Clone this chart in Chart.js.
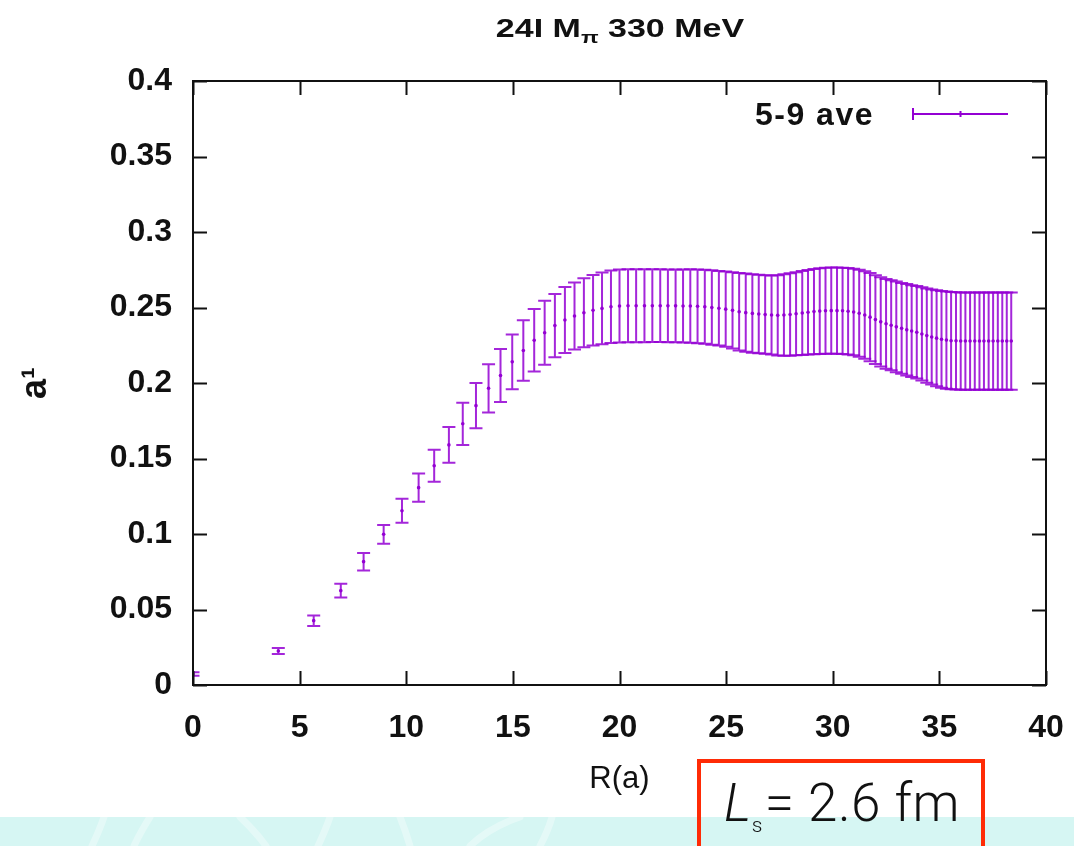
<!DOCTYPE html>
<html>
<head>
<meta charset="utf-8">
<script src="https://cdn.jsdelivr.net/npm/chart.js@4.4.1/dist/chart.umd.min.js"></script>
<style>
  html, body { margin: 0; padding: 0; background: #ffffff; overflow: hidden; }
  #wrap { position: relative; width: 1074px; height: 846px; overflow: hidden; }
  #plot { position: absolute; left: 0; top: 0; }
  #band { position: absolute; left: 0; top: 817px; width: 1074px; height: 29px; background: #d6f6f3; }
  #band svg { position: absolute; left: 0; top: 0; }
  #title { position: absolute; top: 14px; left: 620px; transform: translateX(-50%) scaleX(1.36);
           font: bold 25px "Liberation Sans", Arial, sans-serif; color: #111; white-space: nowrap; }
  #title sub { font-size: 17px; vertical-align: -6px; line-height: 0; }
  #lsbox { position: absolute; left: 697px; top: 759px; width: 280px; height: 120px;
           border: 4px solid #ff2b06; }
  #lstext { position: absolute; left: 724px; top: 772px; font: 300 53px Roboto, "Liberation Sans", sans-serif;
            color: #111; white-space: nowrap; letter-spacing: 0.5px; }
  #lstext i { font-style: italic; }
  #lstext sub { font-size: 21px; vertical-align: -11px; line-height: 0; margin-right: 2px; margin-left: 0; }
</style>
</head>
<body>
<div id="wrap">
  <div id="band">
    <svg width="1074" height="29" viewBox="0 0 1074 29">
      <g fill="none" stroke="#ffffff" stroke-opacity="0.35" stroke-width="7" stroke-linecap="round">
        <path d="M92 29 Q100 12 104 0"/>
        <path d="M150 0 Q140 16 134 29"/>
        <path d="M240 0 Q255 14 266 29"/>
        <path d="M318 29 Q326 12 330 0"/>
        <path d="M400 0 Q406 15 410 29"/>
        <path d="M470 29 Q490 10 520 0"/>
        <path d="M540 29 Q548 14 552 0"/>
      </g>
    </svg>
  </div>
  <canvas id="plot" width="1074" height="846"></canvas>
  <div id="title">24I M<sub>π</sub> 330 MeV</div>
  <div id="lsbox"></div>
  <div id="lstext"><i>L</i><sub>s</sub>= 2.6 fm</div>
</div>
<script>
// Separation R (lattice units) for each averaged point
const rValues = [0, 4.00, 5.66, 6.93, 8.00, 8.94, 9.80, 10.58, 11.31, 12.00, 12.65, 13.27, 13.86,
  14.42, 14.97, 15.49, 16.00, 16.49, 16.97, 17.44, 17.89, 18.33, 18.76, 19.18, 19.60, 20.00,
  20.40, 20.78, 21.17, 21.54, 21.91, 22.27, 22.63, 22.98, 23.32, 23.66, 24.00, 24.33, 24.66,
  24.98, 25.30, 25.61, 25.92, 26.23, 26.53, 26.83, 27.13, 27.42, 27.71, 28.00, 28.28, 28.57,
  28.84, 29.12, 29.39, 29.66, 29.93, 30.20, 30.46, 30.72, 30.98, 31.24, 31.50, 31.75, 32.00,
  32.25, 32.50, 32.74, 32.98, 33.23, 33.47, 33.70, 33.94, 34.18, 34.41, 34.64, 34.87, 35.10,
  35.33, 35.55, 35.78, 36.00, 36.22, 36.44, 36.66, 36.88, 37.09, 37.31, 37.52, 37.74, 37.95,
  38.16, 38.37];

// "5-9 ave" central values
const aveValues = [0.0073, 0.0225, 0.0426, 0.0625, 0.0817, 0.0998, 0.1154, 0.1307, 0.1452, 0.1590,
  0.1730, 0.1850, 0.1965, 0.2050, 0.2140, 0.2215, 0.2283, 0.2333, 0.2380, 0.2417, 0.2444, 0.2465,
  0.2482, 0.2494, 0.2505, 0.2510, 0.2512, 0.2512, 0.2512, 0.2512, 0.2512, 0.2511, 0.2511, 0.2510,
  0.2510, 0.2508, 0.2505, 0.2500, 0.2495, 0.2489, 0.2481, 0.2472, 0.2466, 0.2461, 0.2457, 0.2453,
  0.2450, 0.2448, 0.2450, 0.2454, 0.2459, 0.2464, 0.2469, 0.2473, 0.2476, 0.2478, 0.2479, 0.2479,
  0.2478, 0.2475, 0.2470, 0.2462, 0.2450, 0.2436, 0.2420, 0.2405, 0.2392, 0.2382, 0.2372, 0.2362,
  0.2352, 0.2344, 0.2336, 0.2325, 0.2314, 0.2305, 0.2297, 0.2289, 0.2284, 0.2280, 0.2279, 0.2278,
  0.2278, 0.2278, 0.2278, 0.2278, 0.2278, 0.2278, 0.2278, 0.2278, 0.2278, 0.2278, 0.2278];

// Statistical errors (half-width of each error bar)
const aveErrors = [0.0012, 0.0020, 0.0035, 0.0046, 0.0058, 0.0062, 0.0080, 0.0094, 0.0106, 0.0118,
  0.0140, 0.0150, 0.0160, 0.0175, 0.0182, 0.0200, 0.0207, 0.0212, 0.0210, 0.0218, 0.0222, 0.0228,
  0.0234, 0.0238, 0.0240, 0.0242, 0.0242, 0.0242, 0.0242, 0.0241, 0.0241, 0.0241, 0.0241, 0.0242,
  0.0243, 0.0244, 0.0245, 0.0246, 0.0247, 0.0249, 0.0253, 0.0257, 0.0259, 0.0260, 0.0260, 0.0260,
  0.0262, 0.0266, 0.0270, 0.0273, 0.0275, 0.0278, 0.0280, 0.0282, 0.0284, 0.0285, 0.0286, 0.0286,
  0.0286, 0.0286, 0.0287, 0.0288, 0.0290, 0.0292, 0.0294, 0.0296, 0.0297, 0.0298, 0.0300, 0.0301,
  0.0303, 0.0304, 0.0306, 0.0309, 0.0312, 0.0315, 0.0318, 0.0320, 0.0322, 0.0322, 0.0322, 0.0322,
  0.0322, 0.0322, 0.0322, 0.0322, 0.0322, 0.0322, 0.0322, 0.0322, 0.0322, 0.0322, 0.0322];

const xTickValues = [0, 5, 10, 15, 20, 25, 30, 35, 40];
const xTickLabels = ['0', '5', '10', '15', '20', '25', '30', '35', '40'];
const yTickValues = [0, 0.05, 0.1, 0.15, 0.2, 0.25, 0.3, 0.35, 0.4];
const yTickLabels = ['0', '0.05', '0.1', '0.15', '0.2', '0.25', '0.3', '0.35', '0.4'];

const seriesName = '5-9 ave';
const purple = '#9400d3';
const tickFont = { family: '"Liberation Sans", Arial, sans-serif', size: 32, weight: 'bold' };

// Error bars, frame with inward ticks, and the key
const errorBarPlugin = {
  id: 'errorBars',
  afterDatasetsDraw(chart) {
    const { ctx, chartArea: a, scales: { x, y } } = chart;
    ctx.save();
    ctx.beginPath();
    ctx.rect(a.left, a.top, a.right - a.left, a.bottom - a.top);
    ctx.clip();
    ctx.strokeStyle = 'rgba(148,0,211,0.85)';
    ctx.lineWidth = 2;
    const cap = 6.5;
    rValues.forEach((r, i) => {
      const px = x.getPixelForValue(r);
      const hi = y.getPixelForValue(aveValues[i] + aveErrors[i]);
      const lo = y.getPixelForValue(aveValues[i] - aveErrors[i]);
      ctx.beginPath();
      ctx.moveTo(px, hi); ctx.lineTo(px, lo);
      ctx.moveTo(px - cap, hi); ctx.lineTo(px + cap, hi);
      ctx.moveTo(px - cap, lo); ctx.lineTo(px + cap, lo);
      ctx.stroke();
    });
    ctx.restore();
  },
  afterDraw(chart) {
    const { ctx, chartArea: a, scales: { x, y } } = chart;
    ctx.save();
    ctx.strokeStyle = '#111';
    ctx.lineWidth = 2;
    const tl = 14;
    ctx.beginPath();
    xTickValues.forEach(v => {
      const px = Math.round(x.getPixelForValue(v)) + 0.5;
      ctx.moveTo(px, a.bottom); ctx.lineTo(px, a.bottom - tl);
      ctx.moveTo(px, a.top); ctx.lineTo(px, a.top + tl);
    });
    yTickValues.forEach(v => {
      const py = Math.round(y.getPixelForValue(v)) + 0.5;
      ctx.moveTo(a.left, py); ctx.lineTo(a.left + tl, py);
      ctx.moveTo(a.right, py); ctx.lineTo(a.right - tl, py);
    });
    ctx.stroke();
    ctx.strokeRect(a.left, a.top, a.right - a.left, a.bottom - a.top);

    // key
    const ky = a.top + 33;
    ctx.fillStyle = '#111';
    ctx.font = 'bold 32px "Liberation Sans", Arial, sans-serif';
    ctx.letterSpacing = '1.5px';
    ctx.textAlign = 'right';
    ctx.textBaseline = 'middle';
    ctx.fillText(seriesName, a.right - 172, ky + 2);
    ctx.letterSpacing = '0px';
    ctx.strokeStyle = purple;
    ctx.lineWidth = 2;
    const k0 = a.right - 133, k1 = a.right - 38;
    ctx.beginPath();
    ctx.moveTo(k0, ky); ctx.lineTo(k1, ky);
    ctx.moveTo(k0, ky - 6); ctx.lineTo(k0, ky + 6);
    ctx.moveTo((k0 + k1) / 2, ky - 3); ctx.lineTo((k0 + k1) / 2, ky + 3);
    ctx.stroke();
    ctx.restore();
  }
};

new Chart(document.getElementById('plot'), {
  type: 'scatter',
  data: {
    datasets: [{
      label: seriesName,
      data: rValues.map((r, i) => ({ x: r, y: aveValues[i] })),
      pointRadius: 1.8,
      pointBackgroundColor: purple,
      pointBorderWidth: 0,
      showLine: false
    }]
  },
  options: {
    responsive: false,
    animation: false,
    layout: { padding: { top: 81, right: 28, bottom: 0, left: 0 } },
    plugins: { legend: { display: false }, tooltip: { enabled: false }, title: { display: false } },
    scales: {
      x: {
        type: 'linear', min: 0, max: 40,
        afterBuildTicks: s => { s.ticks = xTickValues.map(v => ({ value: v })); },
        afterFit: s => { s.height = 161; s.paddingLeft = 0; s.paddingRight = 0; },
        grid: { display: false, drawTicks: false },
        border: { display: false },
        ticks: { font: tickFont, color: '#111', padding: 24, maxRotation: 0,
                 callback: (v) => xTickLabels[xTickValues.indexOf(v)] },
        title: { display: true, text: 'R(a)', color: '#111',
                 font: { family: '"Liberation Sans", Arial, sans-serif', size: 31 },
                 padding: { top: 0, bottom: 48 } }
      },
      y: {
        type: 'linear', min: 0, max: 0.4,
        afterBuildTicks: s => { s.ticks = yTickValues.map(v => ({ value: v })); },
        afterFit: s => { s.width = 193; s.paddingTop = 0; s.paddingBottom = 0; },
        grid: { display: false, drawTicks: false },
        border: { display: false },
        ticks: { font: tickFont, color: '#111', padding: 21,
                 callback: (v) => yTickLabels[yTickValues.indexOf(v)] },
        title: { display: true, text: 'a¹', color: '#111',
                 font: { family: '"Liberation Sans", Arial, sans-serif', size: 36, weight: 'bold' },
                 padding: { top: 14, bottom: 0 } }
      }
    }
  },
  plugins: [errorBarPlugin]
});
</script>
</body>
</html>
